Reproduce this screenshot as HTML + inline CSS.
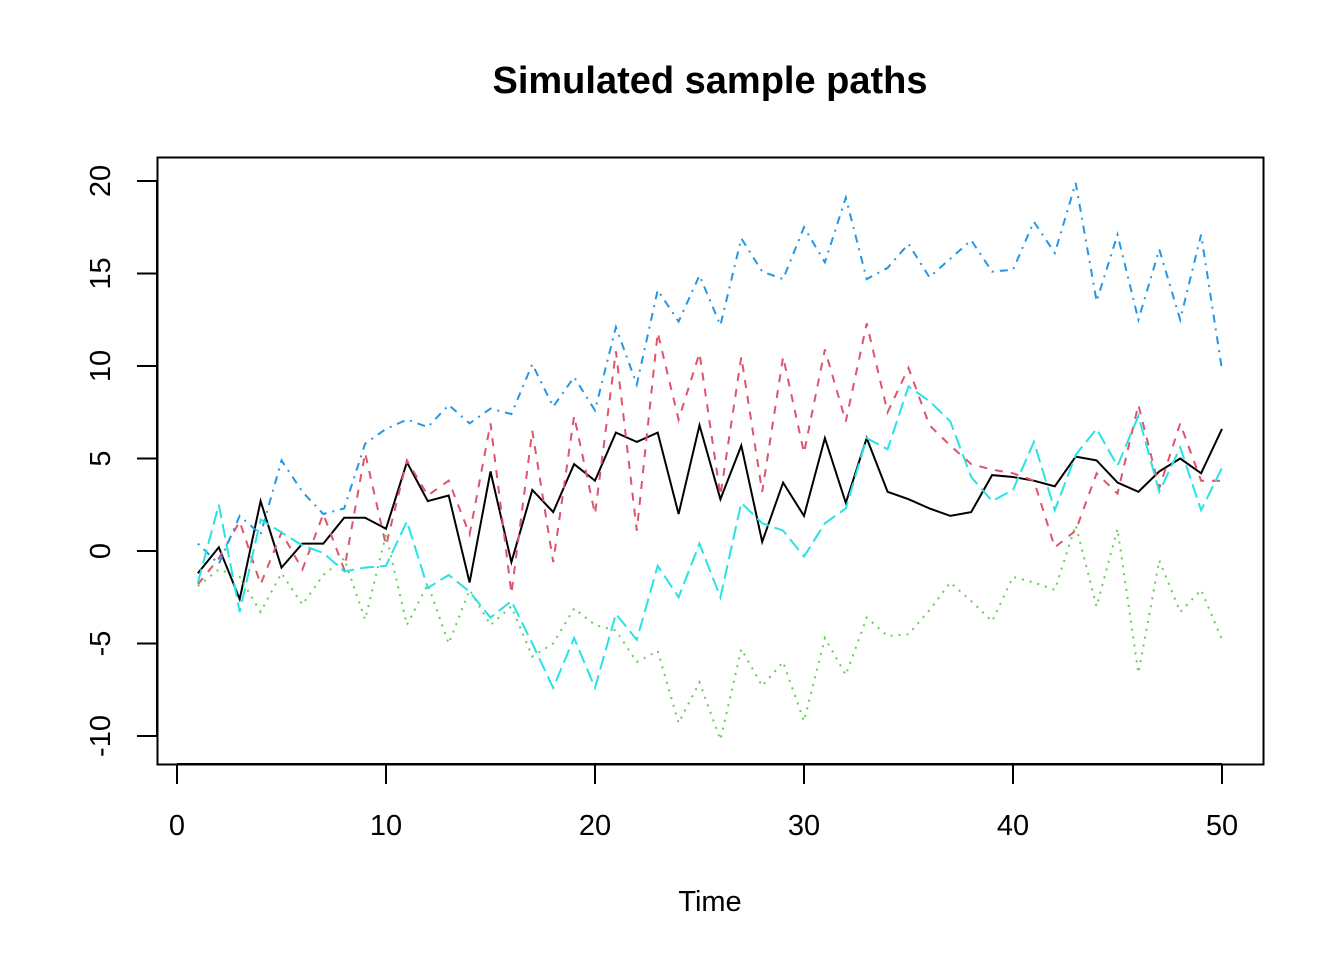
<!DOCTYPE html>
<html><head><meta charset="utf-8"><style>
body{margin:0;background:#fff}
svg{display:block;font-family:"Liberation Sans",Arial,sans-serif}
</style></head><body>
<svg id="chart" width="1344" height="960">
<text x="710" y="93" text-anchor="middle" font-size="38" font-weight="bold">Simulated sample paths</text>
<rect x="157.5" y="157.5" width="1106" height="607" fill="none" stroke="#000" stroke-width="2"/>
<text x="710" y="911" text-anchor="middle" font-size="29">Time</text>
<g id="xaxis"></g>
<g id="yaxis"></g>
<g id="series"></g>
</svg>
<script>
const times = Array.from({length:50},(_,i)=>i+1);
const xTicks = [0,10,20,30,40,50];
const yTicks = [-10,-5,0,5,10,15,20];
const seriesBlack = [-1.2,0.2,-2.6,2.7,-0.9,0.4,0.4,1.8,1.8,1.2,4.8,2.7,3.0,-1.7,4.3,-0.6,3.3,2.1,4.7,3.8,6.4,5.9,6.4,2.0,6.8,2.8,5.7,0.5,3.7,1.9,6.1,2.6,6.1,3.2,2.8,2.3,1.9,2.1,4.1,4.0,3.8,3.5,5.1,4.9,3.7,3.2,4.3,5.0,4.2,6.6];
const seriesRed = [-1.8,-0.4,1.6,-1.8,1.0,-1.0,2.0,-1.0,5.3,0.3,4.9,3.0,3.8,0.9,6.9,-2.3,6.5,-0.6,7.3,2.0,10.8,1.1,11.8,7.1,10.7,3.0,10.5,3.2,10.5,5.3,10.9,7.0,12.3,7.5,9.9,6.8,5.7,4.7,4.4,4.2,3.8,0.2,1.1,4.2,3.1,7.9,3.4,6.9,3.8,3.8];
const seriesGreen = [-1.9,-1.0,-1.4,-3.3,-1.2,-2.9,-1.3,-0.4,-3.7,0.9,-4.0,-1.8,-5.0,-2.1,-4.0,-3.0,-5.7,-5.0,-3.1,-4.0,-4.3,-6.0,-5.4,-9.3,-7.1,-10.2,-5.3,-7.3,-6.0,-9.2,-4.7,-6.7,-3.6,-4.6,-4.5,-3.2,-1.7,-2.7,-3.8,-1.4,-1.7,-2.1,1.4,-3.0,1.2,-6.6,-0.5,-3.3,-2.1,-4.8];
const seriesBlue = [0.4,-0.7,1.9,0.9,4.9,3.2,2.0,2.3,5.8,6.6,7.1,6.7,7.9,6.9,7.7,7.4,10.1,7.8,9.4,7.6,12.1,9.0,14.1,12.4,14.9,12.2,16.9,15.1,14.7,17.5,15.6,19.1,14.7,15.3,16.6,14.8,15.8,16.8,15.1,15.2,17.8,16.1,19.9,13.5,17.1,12.5,16.3,12.5,17.1,9.8];
const seriesCyan = [-1.7,2.5,-3.3,1.7,1.0,0.3,-0.1,-1.1,-0.9,-0.8,1.6,-2.0,-1.3,-2.2,-3.6,-2.7,-5.0,-7.4,-4.7,-7.4,-3.4,-4.8,-0.8,-2.5,0.4,-2.5,2.6,1.5,1.1,-0.3,1.5,2.3,6.1,5.5,8.9,8.1,7.0,4.0,2.7,3.3,5.9,2.2,5.2,6.6,4.6,7.3,3.2,5.6,2.2,4.5];

const NS='http://www.w3.org/2000/svg';
const xs = t => 177 + (t-0)*(1222-177)/50;
const ys = v => 551 - v*(551-181)/20;
function mk(tag, attrs, parent){const e=document.createElementNS(NS,tag);for(const k in attrs)e.setAttribute(k,attrs[k]);parent.appendChild(e);return e;}

const xa=document.getElementById('xaxis');
const xl=mk('line',{x1:xs(xTicks[0]),x2:xs(xTicks[xTicks.length-1]),y1:764,y2:764,stroke:'#000','stroke-width':2},xa);


xTicks.forEach(t=>{
  const tk=mk('line',{x1:xs(t),x2:xs(t),y1:764,y2:784,stroke:'#000','stroke-width':2},xa);
  
  
  const tx=mk('text',{x:xs(t),y:835,'text-anchor':'middle','font-size':29},xa);
  tx.textContent=t;
  
  
});
const ya=document.getElementById('yaxis');
const yl=mk('line',{x1:157,x2:157,y1:ys(yTicks[0]),y2:ys(yTicks[yTicks.length-1]),stroke:'#000','stroke-width':2},ya);


yTicks.forEach(v=>{
  const tk=mk('line',{x1:137,x2:157,y1:ys(v),y2:ys(v),stroke:'#000','stroke-width':2},ya);
  
  
  const tx=mk('text',{x:110,y:ys(v),'text-anchor':'middle','font-size':29,transform:`rotate(-90 110 ${ys(v)})`},ya);
  tx.textContent=v;
  
  
});
const sg=document.getElementById('series');
const specs=[
  [seriesBlack,'#000000','','series-1-line'],
  [seriesRed,'#DF536B','8 8','series-2-line'],
  [seriesGreen,'#61D04F','2 6','series-3-line'],
  [seriesBlue,'#2297E6','2 6 8 6','series-4-line'],
  [seriesCyan,'#28E2E5','14 6','series-5-line']
];
specs.forEach(([vals,col,dash,name])=>{
  const d=vals.map((v,i)=>(i?'L':'M')+xs(times[i]).toFixed(1)+','+ys(v).toFixed(1)).join('');
  const p=mk('path',{d:d,fill:'none',stroke:col,'stroke-width':2,'stroke-dasharray':dash||'none'},sg);
  
  
});
</script>
</body></html>
